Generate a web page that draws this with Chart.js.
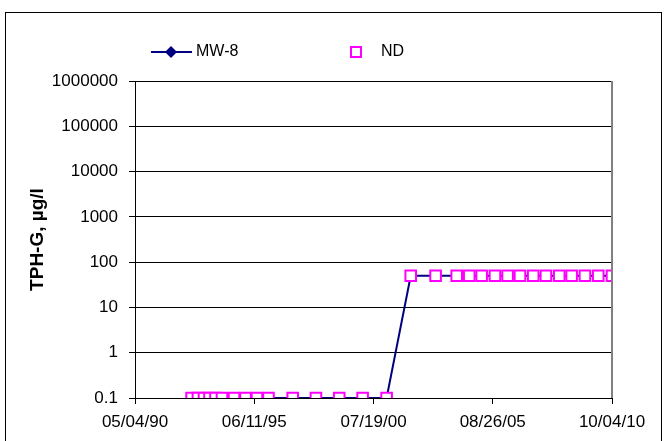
<!DOCTYPE html>
<html>
<head>
<meta charset="utf-8">
<script src="https://cdn.jsdelivr.net/npm/chart.js@4.4.0/dist/chart.umd.min.js"></script>
<style>
    html, body { margin: 0; padding: 0; background: #fff; }
    #wrap { width: 666px; height: 441px; }
</style>
</head>
<body>
<div id="wrap"><canvas id="myChart" width="666" height="441"></canvas></div>
<script>
// sample dates and results, µg/l
const sampleDates = [
    '1992-10-05', '1993-01-12', '1993-04-17', '1993-07-12', '1993-10-14', '1994-01-23',
    '1994-07-30', '1995-01-26', '1995-07-24', '1996-01-20',
    '1997-02-02', '1998-01-31', '1999-01-30', '2000-01-31', '2001-02-09',
    '2002-02-21', '2003-03-17', '2004-02-10', '2004-08-24', '2005-03-06', '2005-09-30',
    '2006-04-16', '2006-10-26', '2007-05-21', '2007-12-06', '2008-07-01', '2009-01-11',
    '2009-08-07', '2010-03-03', '2010-10-04'
];
const mw8Values = [
    0.1, 0.1, 0.1, 0.1, 0.1, 0.1,
    0.1, 0.1, 0.1, 0.1,
    0.1, 0.1, 0.1, 0.1, 0.1,
    50, 50, 50, 50, 50, 50,
    50, 50, 50, 50, 50, 50,
    50, 50, 50
];
// every result is a non-detect
const ndValues = mw8Values.slice();

const xTickDates = ['1990-05-04', '1995-06-11', '2000-07-19', '2005-08-26', '2010-10-04'];
const xTickLabels = ['05/04/90', '06/11/95', '07/19/00', '08/26/05', '10/04/10'];
const yTickLabels = ['0.1', '1', '10', '100', '1000', '10000', '100000', '1000000'];

const navy = '#000080';
const pink = '#FF00FF';
const fontFam = '"Liberation Sans", Arial, sans-serif';

function toDay(s) {
    return Date.parse(s + 'T00:00:00Z') / 86400000;
}

let puntsMW8 = sampleDates.map((d, i) => ({ x: toDay(d), y: mw8Values[i] }));
let puntsND = sampleDates.map((d, i) => ({ x: toDay(d), y: ndValues[i] }));

// legend + frame like the spreadsheet chart
const marcPlugin = {
    id: 'marc',
    afterDraw(chart) {
        const ctx = chart.ctx;
        const a = chart.chartArea;
        ctx.save();
        // plot area border (right side gray)
        ctx.strokeStyle = '#808080';
        ctx.lineWidth = 2;
        ctx.beginPath();
        ctx.moveTo(a.right, a.top);
        ctx.lineTo(a.right, a.bottom);
        ctx.stroke();
        // outer border
        ctx.strokeStyle = '#000';
        ctx.lineWidth = 1;
        ctx.strokeRect(5.5, 12.5, 656, 440);

        // legend
        const y = 52;
        const ds = chart.data.datasets;
        ctx.strokeStyle = navy;
        ctx.lineWidth = 2;
        ctx.beginPath();
        ctx.moveTo(151, y);
        ctx.lineTo(192, y);
        ctx.stroke();
        ctx.fillStyle = navy;
        ctx.beginPath();
        ctx.moveTo(171, y - 6);
        ctx.lineTo(177, y);
        ctx.lineTo(171, y + 6);
        ctx.lineTo(165, y);
        ctx.closePath();
        ctx.fill();
        ctx.strokeStyle = pink;
        ctx.fillStyle = '#fff';
        ctx.fillRect(351, y - 5, 10, 10);
        ctx.strokeRect(351, y - 5, 10, 10);

        ctx.fillStyle = '#000';
        ctx.font = '16px ' + fontFam;
        ctx.textBaseline = 'middle';
        ctx.textAlign = 'left';
        ctx.fillText(ds[0].label, 196, y);
        ctx.fillText(ds[1].label, 381, y);
        ctx.restore();
    }
};

const ctx = document.getElementById('myChart');
const myChart = new Chart(ctx, {
    type: 'line',
    data: {
        datasets: [{
            label: 'MW-8',
            data: puntsMW8,
            borderColor: navy,
            backgroundColor: navy,
            borderWidth: 2,
            tension: 0,
            pointStyle: 'rectRot',
            pointRadius: 4,
            order: 1
        }, {
            label: 'ND',
            data: puntsND,
            showLine: false,
            borderColor: pink,
            backgroundColor: '#fff',
            pointStyle: 'rect',
            pointRadius: 7.5,
            pointBorderWidth: 2,
            order: 0
        }]
    },
    options: {
        responsive: false,
        animation: false,
        devicePixelRatio: 1,
        layout: {
            padding: { left: 0, top: 81, right: 54, bottom: 0 }
        },
        plugins: {
            legend: { display: false },
            tooltip: { enabled: false }
        },
        scales: {
            x: {
                type: 'linear',
                min: toDay(xTickDates[0]),
                max: toDay(xTickDates[xTickDates.length - 1]),
                afterBuildTicks: (scale) => {
                    scale.ticks = xTickDates.map(d => ({ value: toDay(d) }));
                },
                afterFit: (scale) => { scale.height = 43; },
                ticks: {
                    callback: (v, i) => xTickLabels[i],
                    autoSkip: false,
                    maxRotation: 0,
                    padding: 8,
                    color: '#000',
                    font: { family: fontFam, size: 17 }
                },
                grid: {
                    drawOnChartArea: false,
                    tickLength: 6,
                    color: '#000'
                },
                border: { color: '#000', width: 1 }
            },
            y: {
                type: 'logarithmic',
                min: 0.1,
                max: 1000000,
                afterBuildTicks: (scale) => {
                    scale.ticks = yTickLabels.map(t => ({ value: parseFloat(t) }));
                },
                afterFit: (scale) => { scale.width = 135; },
                ticks: {
                    callback: (v, i) => yTickLabels[i],
                    autoSkip: false,
                    padding: 11,
                    color: '#000',
                    font: { family: fontFam, size: 17 }
                },
                grid: {
                    color: '#000',
                    tickLength: 6
                },
                border: { color: '#000', width: 1 },
                title: {
                    display: true,
                    text: 'TPH-G, µg/l',
                    color: '#000',
                    font: { family: fontFam, size: 19, weight: 'bold' },
                    padding: { top: 26, bottom: 0 }
                }
            }
        }
    },
    plugins: [marcPlugin]
});
</script>
</body>
</html>
